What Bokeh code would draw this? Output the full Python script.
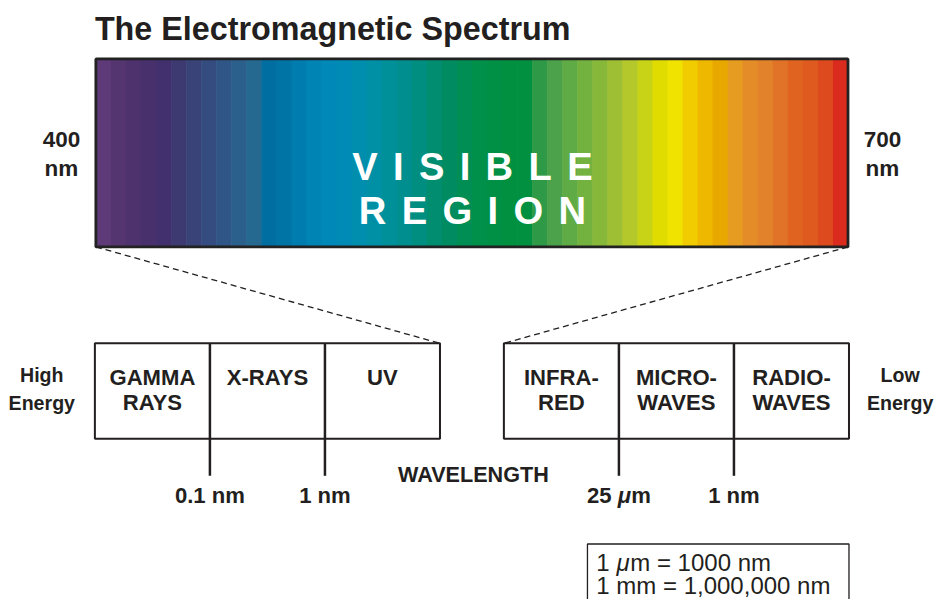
from bokeh.plotting import figure
from bokeh.models import Range1d
from bokeh.core.properties import value
from bokeh.embed import file_html
from bokeh.resources import INLINE

# ---- data ----
title = "The Electromagnetic Spectrum"
stripe_colors = [
    "#5e3a78", "#553570", "#4e326e", "#47306c", "#42306e", "#3d3a72", "#3a4378",
    "#354c80", "#2f5686", "#2b5f8c", "#256890", "#006ea0", "#0075a5", "#007dae",
    "#0084b4", "#0088b8", "#008bb6", "#008eaf", "#0090a6", "#00909a", "#008f8e",
    "#008e80", "#008d70", "#008c60", "#008e55", "#00904a", "#009045", "#009040",
    "#009040", "#2e9a48", "#4ca24a", "#5fab45", "#74b23f", "#88b83a", "#9ebf33",
    "#b4c82b", "#c8d318", "#e0dc00", "#f0e300", "#f0cc00", "#efb800", "#e8a800",
    "#e59c20", "#e38c28", "#e2822a", "#e07328", "#e0641f", "#de5a1e", "#dd4a1e",
    "#db2a1e",
]
visible_label = ["VISIBLE", "REGION"]
visible_ends = [["400", "nm"], ["700", "nm"]]
left_bands = [["GAMMA", "RAYS"], ["X-RAYS"], ["UV"]]
right_bands = [["INFRA-", "RED"], ["MICRO-", "WAVES"], ["RADIO-", "WAVES"]]
left_bounds = [[("0.1 nm", "bold")], [("1 nm", "bold")]]
right_bounds = [[("25 ", "bold"), ("\u03bc", "bold italic"), ("m", "bold")],
                [("1 nm", "bold")]]
energy_labels = [["High", "Energy"], ["Low", "Energy"]]
axis_label = "WAVELENGTH"
conversions = [[("1 ", "normal"), ("\u03bc", "italic"), ("m = 1000 nm", "normal")],
               [("1 mm = 1,000,000 nm", "normal")]]

# ---- layout ----
INK = "#231f20"
FONT = "Liberation Sans"
RW, RH = 951, 615          # reference canvas units
W, H = 935, 599            # figure pixels
FS = 0.98                  # font scale (canvas units -> pixels)

# Arial / Liberation Sans advance widths (em)
REG = {'1': .556, ' ': .278, 'm': .833, '=': .584, '0': .556, 'n': .556, ',': .278,
       '\u03bc': .576, '.': .278, '2': .556, '5': .556}
BLD = {'1': .556, ' ': .278, 'm': .889, 'n': .611, '0': .556, '.': .278, '2': .556,
       '5': .556, '\u03bc': .611, 'V': .667, 'I': .278, 'S': .667, 'B': .722,
       'L': .611, 'E': .667, 'R': .722, 'G': .778, 'O': .778, 'N': .722}


def tw(s, style, size):
    tbl = BLD if "bold" in style else REG
    return sum(tbl.get(c, .6) for c in s) * size


p = figure(width=W, height=H, output_backend="svg", toolbar_location=None,
           x_range=Range1d(0, RW), y_range=Range1d(RH, 0),
           min_border=0, outline_line_color=None)
p.axis.visible = False
p.grid.visible = False
p.background_fill_color = "white"


def fs(size):
    return f"{size * FS:.1f}px"


def lines(xc, ys, strs, size, style="bold", color=INK):
    p.text(x=[xc] * len(strs), y=ys, text=strs, text_font=value(FONT),
           text_font_style=style, text_font_size=fs(size), text_color=color,
           text_align="center", text_baseline="middle")


def pieces(x, y, parts, size, align="left"):
    total = sum(tw(s, st, size) for s, st in parts)
    cx = x - total / 2 if align == "center" else x
    for s, st in parts:
        p.text(x=[cx], y=[y], text=[s], text_font=value(FONT), text_font_style=st,
               text_font_size=fs(size), text_color=INK, text_align="left",
               text_baseline="middle")
        cx += tw(s, st, size)


# title
p.text(x=[96], y=[29], text=[title], text_font=value(FONT), text_font_style="bold",
       text_font_size=fs(33), text_color=INK, text_baseline="middle", text_align="left")

# spectrum stripes
sx0, sx1, sy0, sy1 = 97, 862, 60, 253
n = len(stripe_colors)
sw = (sx1 - sx0) / n
lefts = [sx0 + i * sw for i in range(n)]
rights = [sx0 + (i + 1) * sw + 0.6 for i in range(n)]
p.quad(left=lefts, right=rights, top=[sy0] * n, bottom=[sy1] * n,
       fill_color=stripe_colors, line_color=None)
p.quad(left=[sx0], right=[sx1], top=[sy0], bottom=[sy1], fill_color=None,
       line_color="#222222", line_width=2.8)

# spaced-out "VISIBLE REGION"
VS, GAP = 39, 15.5
for word, yc in zip(visible_label, [170, 216]):
    widths = [tw(c, "bold", VS) for c in word]
    total = sum(widths) + GAP * (len(word) - 1)
    cx = 480 - total / 2
    xs = []
    for w_ in widths:
        xs.append(cx + w_ / 2)
        cx += w_ + GAP
    p.text(x=xs, y=[yc] * len(word), text=list(word), text_font=value(FONT),
           text_font_style="bold", text_font_size=fs(VS), text_color="white",
           text_align="center", text_baseline="middle")

for xc, lab in zip([62, 897], visible_ends):
    lines(xc, [143, 172], lab, 23)

# dashed connectors
bx0L, bx1L, bx0R, bx1R, by0, by1 = 96, 447, 512, 863, 352, 450
p.segment(x0=[sx0, sx1], y0=[sy1, sy1], x1=[bx1L, bx0R], y1=[by0, by0],
          line_color=INK, line_width=1.3, line_dash="6 4")


# band boxes
def band_box(x0, x1, bands, bounds):
    k = len(bands)
    bw = (x1 - x0) / k
    p.quad(left=[x0], right=[x1], top=[by0], bottom=[by1], fill_color=None,
           line_color=INK, line_width=2)
    divs = [x0 + bw * (i + 1) for i in range(k - 1)]
    p.segment(x0=divs, y0=[by0] * len(divs), x1=divs, y1=[488] * len(divs),
              line_color=INK, line_width=2.5)
    for i, lab in enumerate(bands):
        lines(x0 + bw * (i + 0.5), [387, 413][:len(lab)], lab, 22.5)
    for xd, parts in zip(divs, bounds):
        pieces(xd, 508, parts, 22.5, align="center")


band_box(bx0L, bx1L, left_bands, left_bounds)
band_box(bx0R, bx1R, right_bands, right_bounds)

for xc, lab in zip([42, 915], energy_labels):
    lines(xc, [385, 413], lab, 20)
lines(481, [487], [axis_label], 22)

# conversions box
p.quad(left=[597], right=[863], top=[558], bottom=[625], fill_color=None,
       line_color=INK, line_width=1.3)
for yc, parts in zip([577, 601], conversions):
    pieces(606, yc, parts, 24.5)

open("out.html", "w").write(file_html(p, INLINE))
